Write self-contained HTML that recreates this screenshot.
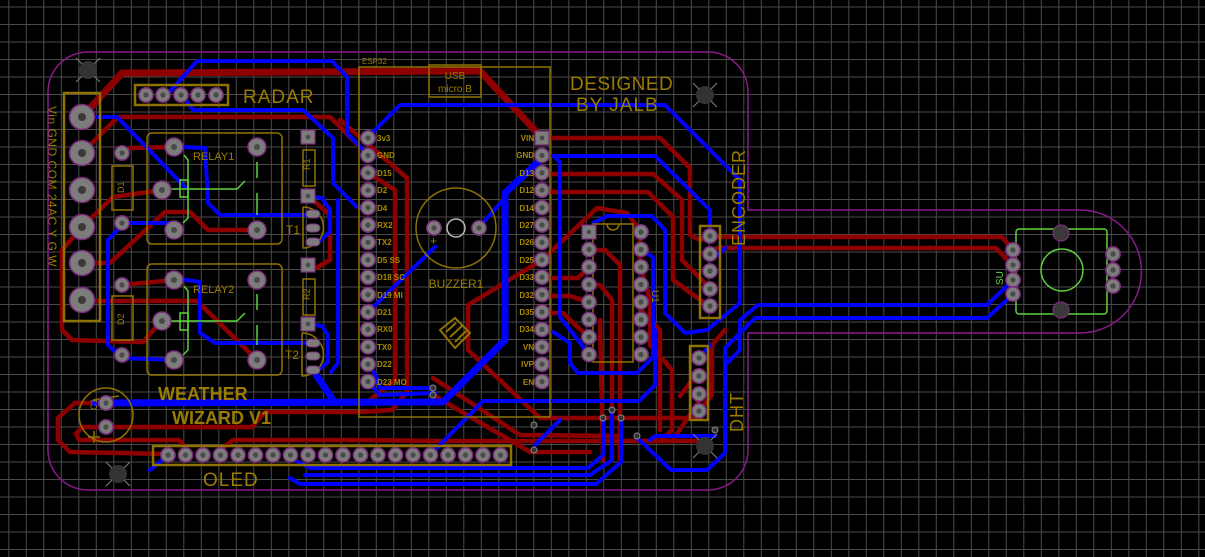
<!DOCTYPE html>
<html><head><meta charset="utf-8"><style>
html,body{margin:0;padding:0;background:#000;}
svg{display:block;}
text{font-family:"Liberation Sans",sans-serif;}
</style></head><body>
<svg width="1205" height="557" viewBox="0 0 1205 557" xmlns="http://www.w3.org/2000/svg">
<defs>
<pattern id="g" x="8.3" y="6.5" width="17.5" height="17.5" patternUnits="userSpaceOnUse">
<path d="M0 0.5H17.5M0.5 0V17.5" stroke="#4a4a4a" stroke-width="1"/>
</pattern>
<g id="p"><circle r="7.2" fill="#7c7c7c" stroke="#7b2a7b" stroke-width="1.5"/><circle r="2.6" fill="#4a4a4a"/></g>
<g id="rp"><circle r="9" fill="#7c7c7c" stroke="#7b2a7b" stroke-width="1.5"/><circle r="3" fill="#4a4a4a"/></g>
<g id="sq"><rect x="-7" y="-7" width="14" height="14" fill="#7c7c7c" stroke="#7b2a7b" stroke-width="1.2"/><circle r="2.3" fill="#4a4a4a"/></g>
<g id="bp"><circle r="12.5" fill="#7c7c7c" stroke="#7b2a7b" stroke-width="1.5"/><circle r="4" fill="#3a3a3a"/></g>
<g id="mh"><circle r="9" fill="#333"/><path d="M-12 -12L-6 -6M12 -12L6 -6M-12 12L-6 6M12 12L6 6" stroke="#777" stroke-width="1.2"/></g>
<g id="via"><circle r="3" fill="#333" stroke="#888" stroke-width="1"/></g>
</defs>
<rect width="1205" height="557" fill="#000"/>
<rect width="1205" height="557" fill="url(#g)"/>

<g fill="none" stroke="#8e0000" stroke-width="4.5" stroke-linejoin="round" stroke-linecap="round">
<path d="M82,117 L122,73 L480,71 L542,138" stroke-width="7"/>
<path d="M82,153 L118,117 L330,117 L355,142 L368,155"/>
<path d="M82,227 L113,197 L162,190"/>
<path d="M95,263 L110,263 L165,212 L190,212 L208,230 L257,230"/>
<path d="M122,153 L130,148 L174,147"/>
<path d="M82,227 L62,250 L62,330 L72,340 L143,342 L162,320"/>
<path d="M94,301 L197,301 L257,360"/>
<path d="M122,285 L174,280"/>
<path d="M308,196 L330,215 L330,260 L316,268"/>
<path d="M340,120 L407,178 L407,392 L392,410 L358,412 L265,412 L252,427 L106,427"/>
<path d="M106,403 L75,403 L58,418 L58,440 L70,452 L168,454"/>
<path d="M106,427 L82,427 L76,434 L79,440 L179,440 L185,447"/>
<path d="M224,447 L233,440 L360,440 L440,441 L633,441 L700,441"/>
<path d="M368,173 L395,190 L395,380 L370,400"/>
<path d="M552,138 L660,138 L690,168 L690,235 L700,240 L710,236"/>
<path d="M552,174 L653,174 L682,200 L682,260 L710,288"/>
<path d="M552,192 L648,192 L673,217 L673,280 L710,307"/>
<path d="M542,260 L597,208 L627,213 L640,230 L640,265 L650,300 L650,345 L672,370 L672,430 L660,441"/>
<path d="M542,260 L468,305 L468,350 L540,418 L700,418"/>
<path d="M550,278 L578,278 L588,268"/>
<path d="M550,296 L570,296 L588,302"/>
<path d="M550,313 L563,313 L588,337"/>
<path d="M588,250 L605,250 L620,265 L620,460"/>
<path d="M588,285 L600,285 L612,300 L612,460"/>
<path d="M600,320 L603,460"/>
<path d="M641,310 L660,330 L660,430"/>
<path d="M433,378 L520,435 L620,436"/>
<path d="M433,395 L530,452 L590,452"/>
<path d="M710,237 L1002,237 L1013,250"/>
<path d="M717,248 L996,248 L1010,263"/>
<path d="M699,411 L712,395 L712,345 L725,330"/>
<path d="M680,396 L695,376"/>
<path d="M640,441 L672,441 L700,400"/>
</g>

<g fill="none" stroke="#0000ff" stroke-width="4" stroke-linejoin="round" stroke-linecap="round">
<path d="M167,95 L197,61 L332,61 L347,77 L347,133 L368,155"/>
<path d="M181,93 L193,110 L303,110 L333,138 L333,183 L357,207 L368,208"/>
<path d="M97,117 L117,117 L185,187"/>
<path d="M183,147 L205,148 L208,203 L220,215 L305,215"/>
<path d="M120,223 L173,223"/>
<path d="M122,225 L108,240 L108,345 L122,358 L174,360"/>
<path d="M174,278 L200,282 L200,333 L215,343 L306,343"/>
<path d="M308,196 L322,198 L330,210 L330,232 L318,242"/>
<path d="M308,324 L322,326 L328,335 L328,362 L318,370"/>
<path d="M338,200 L338,363 L331,372"/>
<path d="M435,247 L373,307"/>
<path d="M478,228 L505,198"/>
<path d="M373,132 L400,105 L665,105 L740,180 L740,303 L707,330 L685,333 L665,313 L665,230 L652,216 L607,216 L593,223"/>
<path d="M553,156 L560,162 L560,317 L588,353"/>
<path d="M553,156 L655,156 L710,210 L710,236"/>
<path d="M553,332 L570,343 L570,363 L578,373 L637,373 L653,357 L653,257 L641,250"/>
<path d="M430,455 L483,401 L639,401 L655,385 L655,330"/>
<path d="M1008,285 L987,305 L758,305 L740,320 L740,350 L725,365"/>
<path d="M1010,297 L987,318 L755,318 L725,348 L725,453 L707,470 L671,470 L636,437"/>
<path d="M715,436 L655,436 L650,440"/>
<path d="M603,418 L603,455 L588,468 L310,468 L285,455"/>
<path d="M612,410 L612,460 L590,475 L305,475"/>
<path d="M621,418 L621,462 L596,484 L300,484 L290,478"/>
<path d="M168,455 L150,470"/>
<path d="M368,381 L380,395 L435,393"/>
<path d="M368,364 L376,376 L380,388 L433,388"/>
<path d="M710,254 L718,255 L725,248"/>
<path d="M699,358 L710,345"/>
<path d="M560,420 L535,445"/>
<path d="M95,403 L443,402 L505,340 L505,193 L538,162" stroke-width="7"/>
<path d="M313,370 L333,400" stroke-width="7"/>
</g>

<g fill="none" stroke="#5ed23a" stroke-width="1.5">
<rect x="180" y="180" width="8" height="17"/>
<path d="M164,189 L237,189 L245,181 M184,155 L188,160 L188,218 L183,223 M257,162 L257,178 M257,193 L257,215"/>
<rect x="180" y="313" width="8" height="17"/>
<path d="M164,321 L237,321 L245,313 M184,286 L188,291 L188,350 L183,355 M257,294 L257,310 M257,325 L257,345"/>
<rect x="1016" y="229" width="91" height="85" rx="3"/>
<circle cx="1062" cy="270" r="21"/>
</g>

<g fill="none" stroke="#8f7200" stroke-width="2.5">
<rect x="64" y="93" width="36" height="228"/>
<rect x="135" y="85" width="93" height="20"/>
<rect x="147" y="133" width="135" height="111" rx="5" stroke-width="1.5"/>
<rect x="147" y="264" width="135" height="111" rx="5" stroke-width="1.5"/>
<rect x="112" y="166" width="21" height="44" stroke-width="1.5"/>
<rect x="112" y="296" width="21" height="44" stroke-width="1.5"/>
<rect x="303" y="150" width="12" height="36" stroke-width="1.5"/>
<rect x="303" y="279" width="12" height="36" stroke-width="1.5"/>
<path d="M303,207 L303,248 A20,20 0 0 0 303,207" stroke-width="1.5"/>
<path d="M302,333 L302,376 A21,21 0 0 0 302,333" stroke-width="1.5"/>
<rect x="359" y="67" width="191" height="350" stroke-width="1.5"/>
<rect x="429" y="65" width="52" height="32" stroke-width="1.5"/>
<circle cx="456" cy="228" r="40" stroke-width="1.5"/>
<rect x="593" y="224" width="40" height="138" stroke-width="1.5"/>
<path d="M607,224 A6,6 0 0 0 619,224" stroke-width="1.5"/>
<rect x="700" y="226" width="20" height="92"/>
<rect x="690" y="346" width="18" height="74"/>
<rect x="153" y="446" width="358" height="19"/>
<circle cx="106" cy="415" r="27" stroke-width="1.5"/>
<path d="M93,400 L119,396 M88,437 L100,437 M94,431 L94,443" stroke-width="1.5"/>
<path d="M440,330 L455,318 L470,333 L455,348 Z M446,332 L456,323 M450,337 L462,326 M455,342 L466,331" stroke-width="2"/>
</g>
<circle cx="456" cy="228" r="9" fill="none" stroke="#bbb" stroke-width="1.5"/>

<use href="#bp" x="82" y="117"/><use href="#bp" x="82" y="153"/><use href="#bp" x="82" y="190"/>
<use href="#bp" x="82" y="227"/><use href="#bp" x="82" y="263"/><use href="#bp" x="82" y="300"/>
<use href="#p" x="146" y="95"/><use href="#p" x="163" y="95"/><use href="#p" x="181" y="95"/><use href="#p" x="198" y="95"/><use href="#p" x="216" y="95"/>
<use href="#rp" x="174" y="147"/><use href="#rp" x="257" y="147"/><use href="#rp" x="162" y="190"/><use href="#rp" x="174" y="230"/><use href="#rp" x="257" y="230"/>
<use href="#p" x="122" y="153"/><use href="#p" x="122" y="223"/>
<use href="#rp" x="174" y="280"/><use href="#rp" x="257" y="280"/><use href="#rp" x="162" y="321"/><use href="#rp" x="174" y="360"/><use href="#rp" x="257" y="360"/>
<use href="#p" x="122" y="285"/><use href="#p" x="122" y="355"/>
<use href="#sq" x="308" y="137"/><use href="#sq" x="308" y="196"/><use href="#sq" x="308" y="265"/><use href="#sq" x="308" y="324"/>
<g fill="#7c7c7c" stroke="#7b2a7b" stroke-width="1">
<rect x="306" y="210" width="14" height="8" rx="4"/><rect x="306" y="224" width="14" height="8" rx="4"/><rect x="306" y="238" width="14" height="8" rx="4"/>
<rect x="306" y="339" width="14" height="8" rx="4"/><rect x="306" y="352" width="14" height="8" rx="4"/><rect x="306" y="366" width="14" height="8" rx="4"/>
</g>
<g>
<use href="#p" x="368" y="138"/><use href="#p" x="368" y="155.4"/><use href="#p" x="368" y="172.8"/><use href="#p" x="368" y="190.2"/><use href="#p" x="368" y="207.6"/>
<use href="#p" x="368" y="225"/><use href="#p" x="368" y="242.4"/><use href="#p" x="368" y="259.8"/><use href="#p" x="368" y="277.2"/><use href="#p" x="368" y="294.6"/>
<use href="#p" x="368" y="312"/><use href="#p" x="368" y="329.4"/><use href="#p" x="368" y="346.8"/><use href="#p" x="368" y="364.2"/><use href="#p" x="368" y="381.6"/>
<use href="#sq" x="542" y="138"/><use href="#p" x="542" y="155.4"/><use href="#p" x="542" y="172.8"/><use href="#p" x="542" y="190.2"/><use href="#p" x="542" y="207.6"/>
<use href="#p" x="542" y="225"/><use href="#p" x="542" y="242.4"/><use href="#p" x="542" y="259.8"/><use href="#p" x="542" y="277.2"/><use href="#p" x="542" y="294.6"/>
<use href="#p" x="542" y="312"/><use href="#p" x="542" y="329.4"/><use href="#p" x="542" y="346.8"/><use href="#p" x="542" y="364.2"/><use href="#p" x="542" y="381.6"/>
</g>
<use href="#p" x="434" y="228"/><use href="#p" x="479" y="228"/>
<use href="#sq" x="589" y="232"/><use href="#p" x="589" y="249.5"/><use href="#p" x="589" y="267"/><use href="#p" x="589" y="284.5"/><use href="#p" x="589" y="302"/><use href="#p" x="589" y="319.5"/><use href="#p" x="589" y="337"/><use href="#p" x="589" y="354.5"/>
<use href="#p" x="641" y="232"/><use href="#p" x="641" y="249.5"/><use href="#p" x="641" y="267"/><use href="#p" x="641" y="284.5"/><use href="#p" x="641" y="302"/><use href="#p" x="641" y="319.5"/><use href="#p" x="641" y="337"/><use href="#p" x="641" y="354.5"/>
<use href="#p" x="710" y="236"/><use href="#p" x="710" y="254"/><use href="#p" x="710" y="271"/><use href="#p" x="710" y="289"/><use href="#p" x="710" y="306"/>
<use href="#p" x="699" y="358"/><use href="#p" x="699" y="376"/><use href="#p" x="699" y="394"/><use href="#p" x="699" y="411"/>
<use href="#p" x="1013" y="250"/><use href="#p" x="1013" y="265"/><use href="#p" x="1013" y="280"/><use href="#p" x="1013" y="294"/>
<use href="#p" x="1113" y="254"/><use href="#p" x="1113" y="270"/><use href="#p" x="1113" y="286"/>
<circle cx="1061" cy="233" r="8" fill="#3a3a3a" stroke="#7b2a7b" stroke-width="1.2"/>
<circle cx="1061" cy="310" r="8" fill="#3a3a3a" stroke="#7b2a7b" stroke-width="1.2"/>
<use href="#p" x="106" y="403"/><use href="#p" x="106" y="427"/>
<g>
<use href="#p" x="168" y="455"/><use href="#p" x="185.5" y="455"/><use href="#p" x="203" y="455"/><use href="#p" x="220.5" y="455"/><use href="#p" x="238" y="455"/>
<use href="#p" x="255.5" y="455"/><use href="#p" x="273" y="455"/><use href="#p" x="290.5" y="455"/><use href="#p" x="308" y="455"/><use href="#p" x="325.5" y="455"/>
<use href="#p" x="343" y="455"/><use href="#p" x="360.5" y="455"/><use href="#p" x="378" y="455"/><use href="#p" x="395.5" y="455"/><use href="#p" x="413" y="455"/>
<use href="#p" x="430.5" y="455"/><use href="#p" x="448" y="455"/><use href="#p" x="465.5" y="455"/><use href="#p" x="483" y="455"/><use href="#p" x="500.5" y="455"/>
</g>
<use href="#via" x="433" y="388"/><use href="#via" x="433" y="395"/><use href="#via" x="603" y="418"/><use href="#via" x="612" y="410"/><use href="#via" x="621" y="418"/>
<use href="#via" x="534" y="425"/><use href="#via" x="534" y="450"/><use href="#via" x="715" y="430"/><use href="#via" x="637" y="436"/>

<use href="#mh" x="88" y="70"/><use href="#mh" x="705" y="95"/><use href="#mh" x="118" y="474"/><use href="#mh" x="705" y="446"/>

<g fill="#9a7c00">
<text x="243" y="103" font-size="19" letter-spacing="1">RADAR</text>
<text x="570" y="90" font-size="19" letter-spacing="0.5">DESIGNED</text>
<text x="576" y="111" font-size="19" letter-spacing="1">BY JALB</text>
<text x="193" y="160" font-size="11">RELAY1</text>
<text x="193" y="293" font-size="11">RELAY2</text>
<text x="286" y="234" font-size="12">T1</text>
<text x="285" y="359" font-size="12">T2</text>
<text x="456" y="288" font-size="12" text-anchor="middle">BUZZER1</text>
<text x="362" y="64" font-size="8">ESP32</text>
<text x="455" y="79" font-size="10" text-anchor="middle">USB</text>
<text x="455" y="92" font-size="10" text-anchor="middle">micro B</text>
<text x="203" y="486" font-size="19" letter-spacing="1">OLED</text>
<text x="158" y="400" font-size="18" font-weight="bold">WEATHER</text>
<text x="172" y="424" font-size="18" font-weight="bold">WIZARD V1</text>
<text transform="translate(745,246) rotate(-90)" font-size="18" letter-spacing="1">ENCODER</text>
<text transform="translate(743,432) rotate(-90)" font-size="18" letter-spacing="1">DHT</text>
<text transform="translate(652,290) rotate(90)" font-size="10">U1</text>
<text transform="translate(48,106) rotate(90)" font-size="12" letter-spacing="0.5">Vin  GND  COM  24AC  Y  G  W</text>
<text transform="translate(310,170) rotate(-90)" font-size="9">R1</text>
<text transform="translate(310,300) rotate(-90)" font-size="9">R2</text>
<text transform="translate(124,193) rotate(-90)" font-size="9">D1</text>
<text transform="translate(124,325) rotate(-90)" font-size="9">D2</text>
<text transform="translate(97,410) rotate(-90)" font-size="9">C1</text>
</g>
<g fill="#a88a00" font-size="8" font-weight="bold">
<text x="377" y="141">3v3</text><text x="377" y="158">GND</text><text x="377" y="176">D15</text><text x="377" y="193">D2</text><text x="377" y="211">D4</text>
<text x="377" y="228">RX2</text><text x="377" y="245">TX2</text><text x="377" y="263">D5  SS</text><text x="377" y="280">D18 SC</text><text x="377" y="298">D19 MI</text>
<text x="377" y="315">D21</text><text x="377" y="332">RX0</text><text x="377" y="350">TX0</text><text x="377" y="367">D22</text><text x="377" y="385">D23 MO</text>
</g>
<g fill="#a88a00" font-size="8" font-weight="bold" text-anchor="end">
<text x="534" y="141">VIN</text><text x="534" y="158">GND</text><text x="534" y="176">D13</text><text x="534" y="193">D12</text><text x="534" y="211">D14</text>
<text x="534" y="228">D27</text><text x="534" y="245">D26</text><text x="534" y="263">D25</text><text x="534" y="280">D33</text><text x="534" y="298">D32</text>
<text x="534" y="315">D35</text><text x="534" y="332">D34</text><text x="534" y="350">VN</text><text x="534" y="367">IVP</text><text x="534" y="385">EN</text>
</g>
<text transform="translate(1003,285) rotate(-90)" font-size="10" fill="#5ed23a">SU</text>
<text x="430" y="245" font-size="12" fill="#9a7c00">+</text>

<path d="M88,52 L708,52 A40,40 0 0 1 748,92 L748,210 L1080,210 A61.5,61.5 0 0 1 1080,333 L748,333 L748,450 A40,40 0 0 1 708,490 L88,490 A40,40 0 0 1 48,450 L48,92 A40,40 0 0 1 88,52 Z" fill="none" stroke="#8a1a8a" stroke-width="1.5"/>
</svg>
</body></html>
